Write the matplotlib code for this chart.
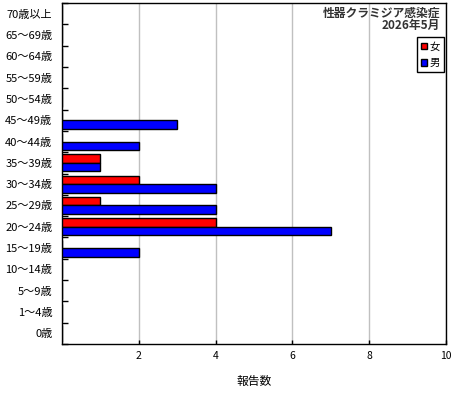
import numpy as np
import matplotlib
matplotlib.use("Agg")
import matplotlib.pyplot as plt

plt.rcParams['font.family'] = ['Noto Sans CJK JP', 'DejaVu Sans']

# 年齢階級（下から上へ）
ages = ['0歳', '1〜4歳', '5〜9歳', '10〜14歳', '15〜19歳', '20〜24歳', '25〜29歳',
        '30〜34歳', '35〜39歳', '40〜44歳', '45〜49歳', '50〜54歳', '55〜59歳',
        '60〜64歳', '65〜69歳', '70歳以上']
female = [0, 0, 0, 0, 0, 4, 1, 2, 1, 0, 0, 0, 0, 0, 0, 0]
male = [0, 0, 0, 0, 2, 7, 4, 4, 1, 2, 3, 0, 0, 0, 0, 0]

title = '性器クラミジア感染症\n2026年5月'
xticks = [2, 4, 6, 8, 10]

fig = plt.figure(figsize=(4.6, 4.0), dpi=100)
ax = fig.add_axes([62 / 460, 56 / 400, 384 / 460, 341 / 400])

y = np.arange(len(ages))
h = 0.4
ax.barh(y + h / 2, female, height=h, color='#ff0000', edgecolor='black', linewidth=1, label='女', zorder=3)
ax.barh(y - h / 2, male, height=h, color='#0000ff', edgecolor='black', linewidth=1, label='男', zorder=3)

ax.set_xlim(0, 10)
ax.set_ylim(-0.5, len(ages) - 0.5)
ax.set_xticks(xticks)
ax.set_xticklabels([str(v) for v in xticks], fontsize=7.5)
ax.set_yticks(y)
ax.set_yticklabels(ages, fontsize=8)
ax.set_yticks(np.arange(-0.5, len(ages)), minor=True)
ax.tick_params(axis='y', which='major', length=0, pad=7)
ax.tick_params(axis='y', which='minor', direction='in', length=4, width=1)
ax.tick_params(axis='x', direction='in', length=3, width=1, pad=5)
ax.grid(axis='x', color='#c0c0c0', linewidth=1, zorder=0)
for s in ax.spines.values():
    s.set_linewidth(1)
    s.set_color('black')

ax.set_xlabel('報告数', fontsize=8.5, labelpad=10)

ax.text(0.985, 0.99, title, transform=ax.transAxes, ha='right', va='top',
        fontsize=8.5, fontweight='bold', linespacing=1.0, color='#333333')

leg = ax.legend(loc='upper right', bbox_to_anchor=(1.0, 0.905), fontsize=7.5,
                handlelength=0.6, handleheight=0.6, handletextpad=0.2,
                borderpad=0.4, labelspacing=0.6, fancybox=False, framealpha=1,
                edgecolor='black', borderaxespad=0.2)
leg.get_frame().set_linewidth(1)

fig.savefig('out.png', dpi=100)
